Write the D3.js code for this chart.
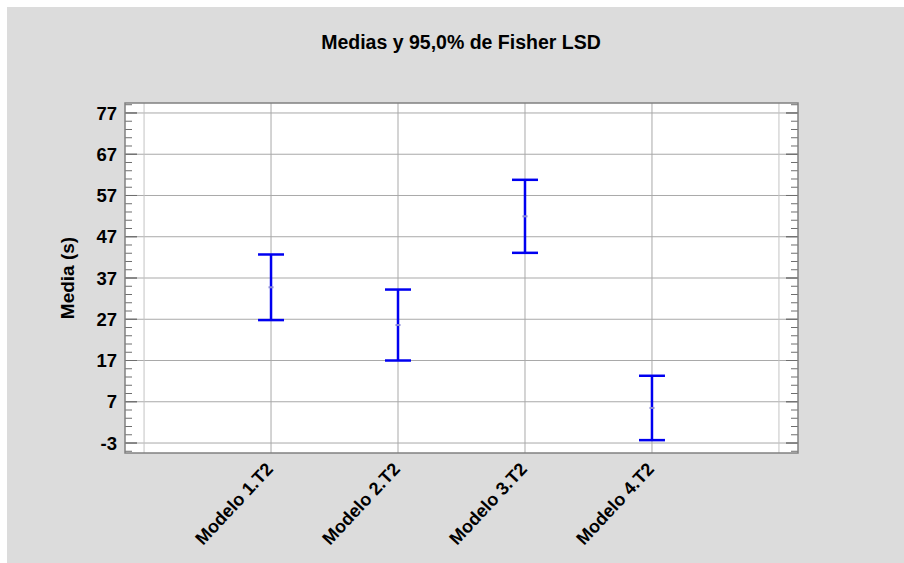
<!DOCTYPE html>
<html>
<head>
<meta charset="utf-8">
<script src="https://cdn.jsdelivr.net/npm/d3@7"></script>
<style>
  html, body { margin: 0; padding: 0; background: #fff; }
  svg text { font-family: "Liberation Sans", Arial, sans-serif; font-weight: bold; fill: #000; }
</style>
</head>
<body>
<svg id="chart" width="904" height="563"></svg>
<script>
// Group means with 95% Fisher LSD intervals
const categories = ["Modelo 1.T2", "Modelo 2.T2", "Modelo 3.T2", "Modelo 4.T2"];
const means = [34.75, 25.6, 51.95, 5.5];
const lower = [26.8, 17.0, 43.1, -2.3];
const upper = [42.7, 34.2, 60.8, 13.3];
const yTicks = [-3, 7, 17, 27, 37, 47, 57, 67, 77];
const minorTicks = d3.range(-5, 80, 2);

const svg = d3.select("#chart");
const W = 904, H = 563;
const plot = { left: 125, top: 103, right: 798, bottom: 453 };

// page background
svg.append("rect").attr("x", 7).attr("y", 7).attr("width", W - 7).attr("height", H - 7)
  .attr("fill", "#dcdcdc");

const x = d3.scaleLinear().domain([-0.15, 5.15]).range([plot.left, plot.right]);
const y = d3.scaleLinear().domain([-5.42, 79.42]).range([plot.bottom, plot.top]);

// plot area
svg.append("rect")
  .attr("x", plot.left).attr("y", plot.top)
  .attr("width", plot.right - plot.left).attr("height", plot.bottom - plot.top)
  .attr("fill", "#ffffff");

// horizontal grid
svg.append("g").selectAll("line").data(yTicks).join("line")
  .attr("x1", plot.left).attr("x2", plot.right)
  .attr("y1", d => y(d)).attr("y2", d => y(d))
  .attr("stroke", "#a9a9a9").attr("stroke-width", 1);

// vertical grid: outer guides and category positions
const vLines = [0, 1, 2, 3, 4, 5];
svg.append("g").selectAll("line").data(vLines).join("line")
  .attr("x1", d => x(d)).attr("x2", d => x(d))
  .attr("y1", plot.top).attr("y2", plot.bottom)
  .attr("stroke", d => (d === 0 || d === 5) ? "#c4c4c4" : "#a9a9a9")
  .attr("stroke-width", 1);

// inner tick marks on left and right edges
const tickG = svg.append("g").attr("stroke", "#6e6e6e").attr("stroke-width", 1);
minorTicks.forEach(v => {
  const len = yTicks.includes(v) ? 12 : 7;
  tickG.append("line").attr("x1", plot.left).attr("x2", plot.left + len)
    .attr("y1", y(v)).attr("y2", y(v));
  tickG.append("line").attr("x1", plot.right).attr("x2", plot.right - len)
    .attr("y1", y(v)).attr("y2", y(v));
});
yTicks.forEach(v => {
  tickG.append("line").attr("x1", plot.left).attr("x2", plot.left + 12)
    .attr("y1", y(v)).attr("y2", y(v));
  tickG.append("line").attr("x1", plot.right).attr("x2", plot.right - 12)
    .attr("y1", y(v)).attr("y2", y(v));
});

// plot border
svg.append("rect")
  .attr("x", plot.left).attr("y", plot.top)
  .attr("width", plot.right - plot.left).attr("height", plot.bottom - plot.top)
  .attr("fill", "none").attr("stroke", "#808080").attr("stroke-width", 1.5);

// y tick labels
svg.append("g").selectAll("text").data(yTicks).join("text")
  .attr("x", plot.left - 8).attr("y", d => y(d))
  .attr("dy", "0.36em")
  .attr("text-anchor", "end")
  .attr("font-size", 18.5)
  .text(d => d);

// y axis title
svg.append("text")
  .attr("transform", `translate(74, ${(plot.top + plot.bottom) / 2}) rotate(-90)`)
  .attr("text-anchor", "middle")
  .attr("font-size", 19)
  .text("Media (s)");

// chart title
svg.append("text")
  .attr("x", 461).attr("y", 49)
  .attr("text-anchor", "middle")
  .attr("font-size", 19.5)
  .text("Medias y 95,0% de Fisher LSD");

// x category labels, rotated
svg.append("g").selectAll("text").data(categories).join("text")
  .attr("transform", (d, i) => `translate(${x(i + 1) + 3}, ${plot.bottom + 17}) rotate(-47)`)
  .attr("text-anchor", "end")
  .attr("font-size", 18)
  .text(d => d);

// interval bars
const capHalf = 13;
const bars = svg.append("g").attr("stroke", "#0000f0").attr("stroke-width", 2.5).attr("fill", "none");
categories.forEach((c, i) => {
  const cx = x(i + 1);
  bars.append("line").attr("x1", cx).attr("x2", cx).attr("y1", y(upper[i])).attr("y2", y(lower[i]));
  bars.append("line").attr("x1", cx - capHalf).attr("x2", cx + capHalf).attr("y1", y(upper[i])).attr("y2", y(upper[i]));
  bars.append("line").attr("x1", cx - capHalf).attr("x2", cx + capHalf).attr("y1", y(lower[i])).attr("y2", y(lower[i]));
});

// mean markers
svg.append("g").selectAll("rect").data(means).join("rect")
  .attr("x", (d, i) => x(i + 1) - 2.5).attr("y", d => y(d) - 1)
  .attr("width", 5).attr("height", 2)
  .attr("fill", "#8a8ad8");
</script>
</body>
</html>
